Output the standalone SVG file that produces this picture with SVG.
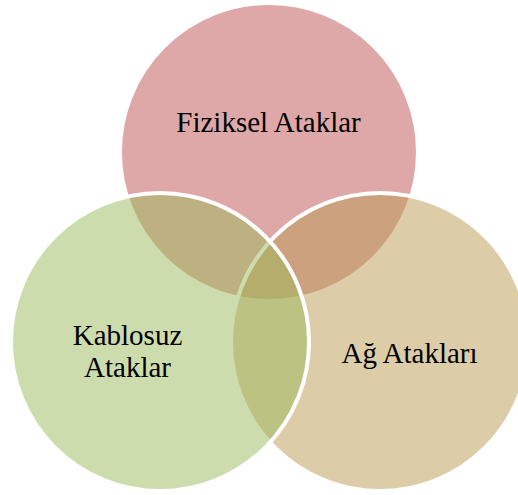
<svg xmlns="http://www.w3.org/2000/svg" width="518" height="495" viewBox="0 0 518 495">
  <style>
    .set { fill-opacity: 0.5; stroke: #ffffff; stroke-width: 4; }
    .label { font-family: "Liberation Serif", "Times New Roman", serif; font-size: 29px; fill: #000000; text-anchor: middle; }
  </style>
  <rect width="518" height="495" fill="#ffffff"/>
  <!-- three overlapping sets, drawn top, right, left -->
  <g id="fiziksel">
    <circle class="set" cx="269" cy="152" r="149" fill="#bf5151"/>
    <text class="label" x="268.5" y="132">Fiziksel Ataklar</text>
  </g>
  <g id="ag">
    <circle class="set" cx="380" cy="342" r="149" fill="#b99951"/>
  </g>
  <g id="kablosuz">
    <circle class="set" cx="160" cy="342" r="149" fill="#9bb95b"/>
  </g>
  <!-- labels kept above all fills -->
  <g id="labels">
    <text class="label" x="409.5" y="363">Ağ Atakları</text>
    <text class="label" x="127.5" y="345">Kablosuz</text>
    <text class="label" x="127.5" y="377">Ataklar</text>
  </g>
</svg>
